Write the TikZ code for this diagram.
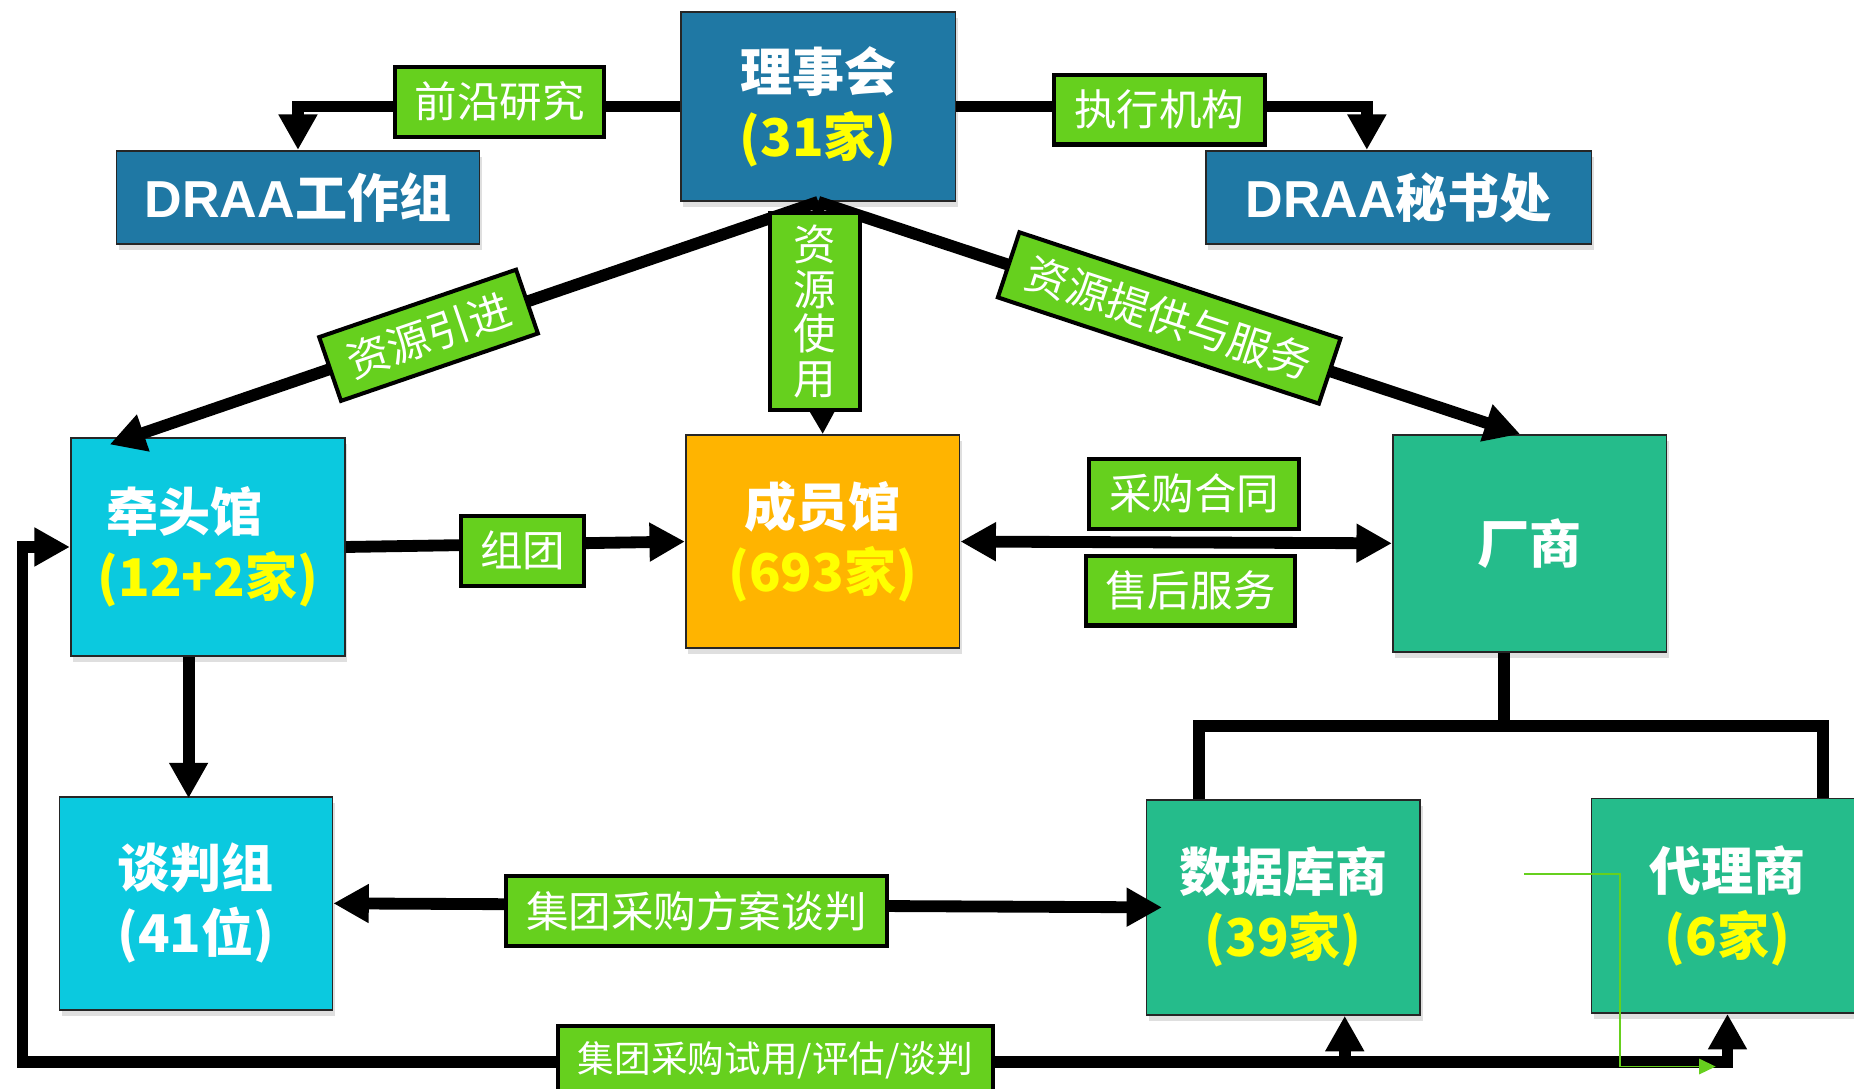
\documentclass[tikz,border=0pt]{standalone}
\usepackage{fontspec}
\newfontfamily\cjk{Noto Sans CJK SC}
\newfontfamily\lat{Liberation Sans}
\usepackage{tikz}
\usetikzlibrary{arrows.meta, calc, shadows}

\definecolor{boardblue}{RGB}{31,120,164}
\definecolor{libcyan}{RGB}{11,201,223}
\definecolor{memberorange}{RGB}{255,180,0}
\definecolor{vendorgreen}{RGB}{37,188,139}
\definecolor{taggreen}{RGB}{102,208,30}
\definecolor{ytxt}{RGB}{255,255,0}

\begin{document}
\begin{tikzpicture}[x=0.5pt, y=-0.5pt,
    box/.style={draw=black!85, line width=0.7pt, text=white, align=center, inner sep=0pt,
        font=\cjk\bfseries\fontsize{22}{27.5}\selectfont,
        drop shadow={opacity=0.25, shadow xshift=1pt, shadow yshift=-2.5pt}},
    tag/.style={draw=black, line width=1.7pt, fill=taggreen, text=white, align=center, inner sep=0pt,
        minimum height=29.5pt, font=\cjk\fontsize{18}{18.8}\selectfont},
    ln/.style={line width=5pt},
    arr/.style={ln, -{Triangle[length=15pt,width=15.5pt]}},
    arrs/.style={ln, {Triangle[length=15pt,width=15.5pt]}-{Triangle[length=15pt,width=15.5pt]}}
]
    \useasboundingbox (0,0) rectangle (1568,921);

    % Board and its two offices
    \node[box, fill=boardblue, minimum width=116pt, minimum height=80pt] (lsh) at (692,90) {理事会\\\textcolor{ytxt}{(31家)}};
    \node[box, fill=boardblue, minimum width=153.5pt, minimum height=39.5pt] (gzz) at (252,167) {{\lat\bfseries DRAA}工作组};
    \node[box, fill=boardblue, minimum width=163pt, minimum height=39.5pt] (msc) at (1183,167) {{\lat\bfseries DRAA}秘书处};

    % Libraries and vendors
    \node[box, fill=libcyan, minimum width=116pt, minimum height=92pt] (qtg) at (175.8,462.6) {牵头馆\hspace*{0.9em}\\\textcolor{ytxt}{(12+2家)}};
    \node[box, fill=memberorange, minimum width=115.8pt, minimum height=90pt] (cyg) at (695.8,458) {成员馆\\\textcolor{ytxt}{(693家)}};
    \node[box, fill=vendorgreen, minimum width=115.7pt, minimum height=91.7pt] (cs) at (1293.6,459.5) {厂商};
    \node[box, fill=libcyan, minimum width=115.5pt, minimum height=90.2pt] (tpz) at (165.7,764) {谈判组\\(41位)};
    \node[box, fill=vendorgreen, minimum width=115.8pt, minimum height=91pt] (sjk) at (1085.3,767.4) {数据库商\\\textcolor{ytxt}{(39家)}};
    \node[box, fill=vendorgreen, minimum width=115pt, minimum height=90.8pt] (dls) at (1461,766) {代理商\\\textcolor{ytxt}{(6家)}};

    % Board to the offices
    \draw[arr] (lsh.west) -| (gzz.north);
    \draw[arr] (lsh.east) -| ($(msc.north)+(-27,0)$);
    \node[tag, minimum width=88.3pt] (qy) at (422.6,86) {前沿研究};
    \node[tag, minimum width=89.3pt] (zx) at (980.5,92.7) {执行机构};

    % Board down to libraries and vendors
    \draw[arr] (lsh.south) -- node[tag, sloped, pos=0.55, minimum width=88pt, minimum height=28.5pt] (yj) {资源引进} ($(qtg.north)+(-83,6)$);
    \draw[arr] (lsh.south) -- node[tag, sloped, pos=0.5, minimum width=143pt, minimum height=29pt] (tg) {资源提供与服务} ($(cs.north)+(-8,0)$);
    \draw[arr] (lsh.south) -- (cyg.north);
    \node[tag, minimum width=38pt, minimum height=83pt] (sy) at (689.3,263.5) {资\\源\\使\\用};

    % Middle row
    \draw[arr] (qtg.east) -- (cyg.west);
    \node[tag, minimum width=52pt] (zt) at (442,465.8) {组团};
    \draw[arrs] (cyg.east) -- (cs.west);
    \node[tag, minimum width=89pt] (cg) at (1010,417.5) {采购合同};
    \node[tag, minimum width=88.5pt] (sh) at (1006.8,499.5) {售后服务};
    \draw[arr] ($(qtg.south)+(-16.3,0)$) -- ($(tpz.north)+(-6.2,2)$);

    % Vendor split
    \coordinate (fork) at (1271.7,613.8);
    \coordinate (fl) at (1013.7,613.8);
    \coordinate (fr) at (1541.7,613.8);
    \draw[ln] (cs.south -| fork) -- (fork);
    \draw[ln] (sjk.north -| fl) -- (fl) -- (fr) -- (dls.north -| fr);

    % Negotiation
    \draw[arrs] (tpz.east) -- ($(sjk.west)+(14,0)$);
    \node[tag, minimum width=161.3pt] (fa) at (588.9,770.5) {集团采购方案谈判};

    % Loop along the bottom
    \coordinate (bl) at (19,898);
    \draw[arrs] (dls.south) |- (bl) |- (qtg.west);
    \draw[arr] ($(sjk.south)+(52,40)$) -- ($(sjk.south)+(52,0)$);
    \node[tag, minimum width=184.3pt, font=\cjk\fontsize{15.5}{16}\selectfont] (sp) at (655.9,897) {集团采购试用/评估/谈判};

    % Thin green line
    \coordinate (g1) at (1289,739.4);
    \coordinate (g2) at (1451,902);
    \draw[taggreen, line width=0.8pt, -{Triangle[length=7pt,width=6.5pt]}] (g1) -| ($(g2)+(-81,0)$) -- (g2);
\end{tikzpicture}
\end{document}
